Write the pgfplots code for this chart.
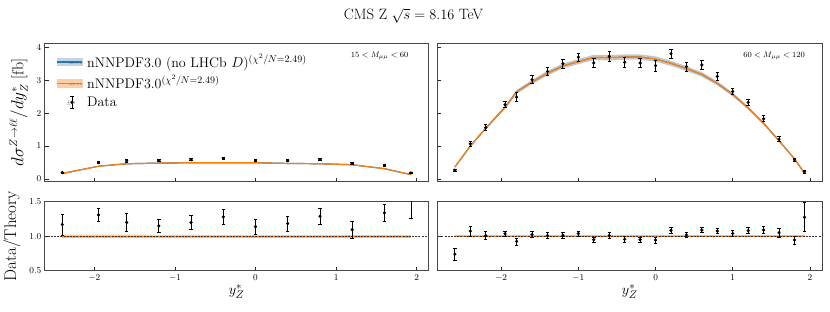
\documentclass[border=0pt]{standalone}
\usepackage{pgfplots}
\pgfplotsset{compat=1.18}
\usepackage{pgfplotstable}
\usepgfplotslibrary{fillbetween}

\definecolor{c0}{HTML}{1F77B4}
\definecolor{c1}{HTML}{FF7F0E}
\definecolor{bandblue}{HTML}{B7C9D8}
\definecolor{bandorange}{HTML}{FFCDA3}

% x  data  err  theory  ratio  ratio_err
\pgfplotstableread{
x d de t r re
-2.4 0.19 0.02 0.163 1.17 0.15
-1.95 0.50 0.03 0.385 1.31 0.10
-1.6 0.55 0.035 0.46 1.20 0.135
-1.2 0.55 0.03 0.48 1.15 0.10
-0.8 0.58 0.03 0.49 1.20 0.10
-0.4 0.62 0.03 0.49 1.28 0.11
0 0.55 0.03 0.49 1.14 0.11
0.4 0.55 0.03 0.47 1.185 0.11
0.8 0.59 0.035 0.46 1.29 0.12
1.2 0.47 0.03 0.43 1.095 0.12
1.6 0.41 0.03 0.31 1.34 0.125
1.93 0.18 0.02 0.13 1.58 0.32
}\leftdata

\pgfplotstableread{
x d de t r re
-2.6 0.265 0.03 0.36 0.74 0.09
-2.4 1.07 0.08 1.00 1.075 0.075
-2.2 1.56 0.09 1.54 1.01 0.06
-1.95 2.26 0.09 2.18 1.035 0.04
-1.8 2.49 0.13 2.65 0.925 0.05
-1.6 3.02 0.12 2.95 1.025 0.04
-1.4 3.27 0.13 3.22 1.01 0.04
-1.2 3.51 0.14 3.44 1.015 0.04
-1.0 3.71 0.12 3.57 1.04 0.035
-0.8 3.53 0.14 3.70 0.95 0.04
-0.6 3.73 0.14 3.69 1.01 0.04
-0.4 3.55 0.14 3.71 0.955 0.04
-0.2 3.53 0.14 3.71 0.95 0.04
0 3.45 0.16 3.65 0.945 0.045
0.2 3.81 0.14 3.52 1.085 0.04
0.4 3.42 0.13 3.36 1.02 0.04
0.6 3.47 0.13 3.18 1.09 0.04
0.8 3.12 0.11 2.91 1.075 0.04
1.0 2.66 0.10 2.57 1.04 0.04
1.2 2.33 0.10 2.16 1.08 0.045
1.4 1.83 0.09 1.69 1.09 0.05
1.6 1.21 0.07 1.16 1.05 0.06
1.8 0.58 0.04 0.61 0.945 0.06
1.93 0.22 0.04 0.17 1.275 0.21
}\rightdata

\pgfplotsset{
  myax/.style={scale only axis, axis line style={black!72, line width=0.8pt},
    tick align=inside, xtick pos=bottom, ytick pos=left, major tick length=4pt,
    tick style={black!85, line width=0.6pt},
    tick label style={font=\fontsize{9}{11}\selectfont},
    xtick={-2,-1,0,1,2}},
  dataplot/.style={only marks, mark=*, mark size=1.4pt, black,
    error bars/.cd, y dir=both, y explicit,
    error bar style={line width=0.9pt, black},
    error mark options={rotate=90, mark size=1.7pt, line width=0.7pt, black},
    /pgfplots/.cd},
}

\begin{document}
\begin{tikzpicture}
\path (0pt,0pt) rectangle (830pt,312pt);
\node[font=\fontsize{15}{18}\selectfont] at (413pt,296pt) {CMS Z $\sqrt{s}=8.16$ TeV};

% ---------------- top left ----------------
\begin{axis}[myax, at={(44pt,130pt)}, anchor=south west, width=384pt, height=139pt,
  xmin=-2.6165, xmax=2.1465, ymin=-0.09, ymax=4.14, ytick={0,1,2,3,4},
  xticklabels={},
  ylabel={$d\sigma^{Z\to\ell\ell}/dy^{*}_{Z}$ [fb]},
  ylabel style={font=\fontsize{16}{19}\selectfont, at={(axis description cs:-0.068,0.5)}, anchor=center},
  legend style={at={(axis description cs:0.022,0.95)}, anchor=north west, draw=none, fill=none,
    font=\fontsize{14}{16}\selectfont, row sep=2.5pt},
  legend cell align=left]
\addlegendimage{legend image code/.code={
  \fill[bandblue!80] (0pt,-4pt) rectangle (25pt,3.5pt);
  \draw[c0, line width=1.1pt] (0pt,-0.5pt) -- (25pt,-0.5pt);
  \node[font=\fontsize{2.5}{3}\selectfont, inner sep=0pt, black!70] at (12.5pt,-2.5pt) {68\% C.L.};
  \path (28pt,0pt);}}
\addlegendentry{nNNPDF3.0 (no LHCb $D$)$^{(\chi^2/N=2.49)}$}
\addlegendimage{legend image code/.code={
  \fill[bandorange] (0pt,-4pt) rectangle (25pt,3.5pt);
  \draw[c1, line width=1.1pt] (0pt,-0.5pt) -- (25pt,-0.5pt);
  \node[font=\fontsize{2.5}{3}\selectfont, inner sep=0pt, black!70] at (12.5pt,-2.5pt) {68\% C.L.};
  \path (28pt,0pt);}}
\addlegendentry{nNNPDF3.0$^{(\chi^2/N=2.49)}$}
\addlegendimage{legend image code/.code={
  \draw[black, line width=0.9pt] (15pt,-6pt) -- (15pt,6pt);
  \draw[black, line width=0.7pt] (13.3pt,-6pt) -- (16.7pt,-6pt) (13.3pt,6pt) -- (16.7pt,6pt);
  \fill[black] (15pt,0pt) circle (1.4pt);
  \node[font=\fontsize{4}{4}\selectfont, inner sep=0pt, black!70] at (9pt,-0.8pt) {$\pm\sigma$};
  \path (0pt,0pt) (28pt,0pt);}}
\addlegendentry{Data}

\addplot[name path=bh, draw=none, forget plot] table[x=x, y expr=\thisrow{t}*1.02]{\leftdata};
\addplot[name path=bl, draw=none, forget plot] table[x=x, y expr=\thisrow{t}*0.98]{\leftdata};
\addplot[bandblue, draw=none, forget plot] fill between[of=bh and bl];
\addplot[name path=oh, draw=none, forget plot] table[x=x, y expr=\thisrow{t}*1.012]{\leftdata};
\addplot[name path=ol, draw=none, forget plot] table[x=x, y expr=\thisrow{t}*0.988]{\leftdata};
\addplot[bandorange, draw=none, forget plot] fill between[of=oh and ol];
\addplot[c0, line width=1.2pt, forget plot] table[x=x, y=t]{\leftdata};
\addplot[c1, line width=1.2pt, forget plot] table[x=x, y=t]{\leftdata};
\addplot[forget plot, dataplot] table[x=x, y=d, y error=de]{\leftdata};
\node[anchor=south west, font=\fontsize{8}{9}\selectfont, inner sep=0pt] at (rel axis cs:0.003,1.015) {$\times10^{7}$};
\node[anchor=east, font=\fontsize{8.5}{10}\selectfont, inner sep=0pt] at (rel axis cs:0.948,0.91) {$15 < M_{\mu\mu} < 60$};
\end{axis}

% ---------------- top right ----------------
\begin{axis}[myax, at={(437pt,130pt)}, anchor=south west, width=385pt, height=139pt,
  xmin=-2.8265, xmax=2.1565, ymin=-0.09, ymax=4.14, ytick={0,1,2,3,4},
  xticklabels={}, yticklabels={}]
\addplot[name path=bh, draw=none, forget plot] table[x=x, y expr=\thisrow{t}*1.022]{\rightdata};
\addplot[name path=bl, draw=none, forget plot] table[x=x, y expr=\thisrow{t}*0.978]{\rightdata};
\addplot[bandblue, draw=none, forget plot] fill between[of=bh and bl];
\addplot[name path=oh, draw=none, forget plot] table[x=x, y expr=\thisrow{t}*1.01]{\rightdata};
\addplot[name path=ol, draw=none, forget plot] table[x=x, y expr=\thisrow{t}*0.99]{\rightdata};
\addplot[bandorange, draw=none, forget plot] fill between[of=oh and ol];
\addplot[c0, line width=1.2pt, forget plot] table[x=x, y=t]{\rightdata};
\addplot[c1, line width=1.2pt, forget plot] table[x=x, y=t]{\rightdata};
\addplot[forget plot, dataplot] table[x=x, y=d, y error=de]{\rightdata};
\node[anchor=south west, font=\fontsize{8}{9}\selectfont, inner sep=0pt] at (rel axis cs:0.003,1.015) {$\times10^{7}$};
\node[anchor=east, font=\fontsize{8.5}{10}\selectfont, inner sep=0pt] at (rel axis cs:0.956,0.91) {$60 < M_{\mu\mu} < 120$};
\end{axis}

% ---------------- bottom left ----------------
\begin{axis}[myax, at={(44pt,41pt)}, anchor=south west, width=384pt, height=69pt,
  xmin=-2.6165, xmax=2.1465, ymin=0.5, ymax=1.5, ytick={0.5,1,1.5},
  yticklabel style={/pgf/number format/fixed, /pgf/number format/fixed zerofill, /pgf/number format/precision=1},
  xlabel={$y^{*}_{Z}$},
  xlabel style={font=\fontsize{15}{18}\selectfont, at={(axis description cs:0.5,-0.3)}, anchor=center},
  ylabel={Data/Theory},
  ylabel style={font=\fontsize{17}{20}\selectfont, at={(axis description cs:-0.086,0.5)}, anchor=center}]
\addplot[name path=rbh, draw=none, forget plot] coordinates {(-2.4,1.02) (1.93,1.02)};
\addplot[name path=rbl, draw=none, forget plot] coordinates {(-2.4,0.975) (1.93,0.975)};
\addplot[bandblue, draw=none, forget plot] fill between[of=rbh and rbl];
\addplot[name path=roh, draw=none, forget plot] coordinates {(-2.4,1.025) (1.93,1.012)};
\addplot[name path=rol, draw=none, forget plot] coordinates {(-2.4,0.99) (1.93,0.99)};
\addplot[bandorange, draw=none, forget plot] fill between[of=roh and rol];
\addplot[c1, line width=1.2pt, forget plot] coordinates {(-2.4,1) (1.93,1)};
\addplot[black!80, line width=0.5pt, dash pattern=on 2pt off 1.2pt, forget plot] coordinates {(-2.7,1) (2.2,1)};
\addplot[forget plot, dataplot] table[x=x, y=r, y error=re]{\leftdata};
\end{axis}

% ---------------- bottom right ----------------
\begin{axis}[myax, at={(437pt,41pt)}, anchor=south west, width=385pt, height=69pt,
  xmin=-2.8265, xmax=2.1565, ymin=0.5, ymax=1.5, ytick={0.5,1,1.5},
  yticklabels={},
  xlabel={$y^{*}_{Z}$},
  xlabel style={font=\fontsize{15}{18}\selectfont, at={(axis description cs:0.5,-0.3)}, anchor=center}]
\addplot[name path=rbh, draw=none, forget plot] coordinates {(-2.6,1.012) (1.93,1.012)};
\addplot[name path=rbl, draw=none, forget plot] coordinates {(-2.6,0.988) (1.93,0.988)};
\addplot[bandblue, draw=none, forget plot] fill between[of=rbh and rbl];
\addplot[name path=roh, draw=none, forget plot] coordinates {(-2.6,1.008) (1.93,1.008)};
\addplot[name path=rol, draw=none, forget plot] coordinates {(-2.6,0.992) (1.93,0.992)};
\addplot[bandorange, draw=none, forget plot] fill between[of=roh and rol];
\addplot[c1, line width=1.2pt, forget plot] coordinates {(-2.6,1) (1.93,1)};
\addplot[black!80, line width=0.5pt, dash pattern=on 2pt off 1.2pt, forget plot] coordinates {(-2.9,1) (2.2,1)};
\addplot[forget plot, dataplot] table[x=x, y=r, y error=re]{\rightdata};
\end{axis}
\end{tikzpicture}
\end{document}
